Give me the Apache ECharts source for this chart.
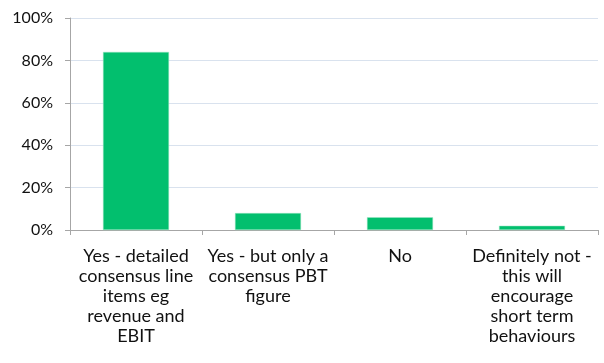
<!DOCTYPE html>
<html>
<head>
<meta charset="utf-8">
<script src="https://cdn.jsdelivr.net/npm/echarts@6/dist/echarts.min.js"></script>
<style>html,body{margin:0;padding:0;background:#fff}#c{width:604px;height:363px}</style>
</head>
<body>
<div id="c"></div>
<script>
const categories = [
  "Yes - detailed\nconsensus line\nitems eg\nrevenue and\nEBIT",
  "Yes - but only a\nconsensus PBT\nfigure",
  "No",
  "Definitely not -\nthis will\nencourage\nshort term\nbehaviours"
];
const values = [84, 8, 6, 2];
const yTicks = {min: 0, max: 100, interval: 20};

const chart = echarts.init(document.getElementById('c'), null, {renderer: 'canvas'});
chart.setOption({
  animation: false,
  grid: {left: 70, right: 6, top: 18, bottom: 133},
  xAxis: {
    type: 'category',
    data: categories,
    axisLine: {lineStyle: {color: '#A6A6A6', width: 1}},
    axisTick: {show: true, length: 5, lineStyle: {color: '#A6A6A6'}},
    axisLabel: {
      interval: 0, margin: 16, color: '#111',
      fontFamily: 'Lato', fontSize: 18, lineHeight: 20, align: 'center'
    }
  },
  yAxis: {
    type: 'value',
    min: yTicks.min, max: yTicks.max, interval: yTicks.interval,
    axisLine: {show: true, lineStyle: {color: '#A6A6A6', width: 1}},
    axisTick: {show: true, length: 5, lineStyle: {color: '#A6A6A6'}},
    splitLine: {lineStyle: {color: '#D9E2EE', width: 1}},
    axisLabel: {
      formatter: '{value}%', margin: 17, color: '#111',
      fontFamily: 'Lato', fontSize: 16
    }
  },
  series: [{
    type: 'bar',
    data: values,
    barWidth: '50%',
    itemStyle: {color: '#02BF6E', borderColor: '#9EE6C4', borderWidth: 0.5}
  }]
});
</script>
</body>
</html>
